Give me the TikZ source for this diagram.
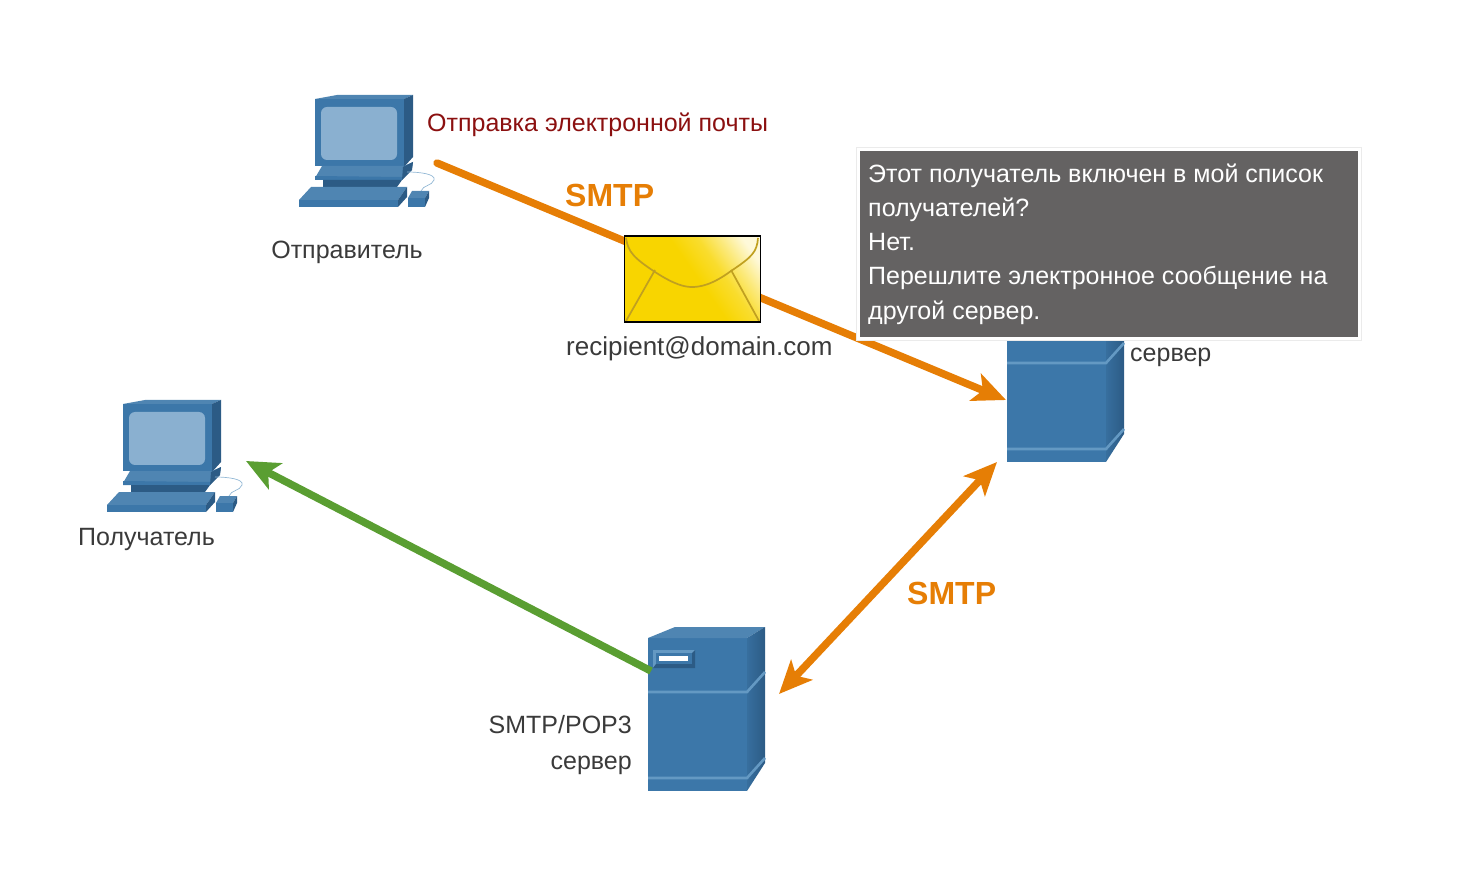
\documentclass[tikz,border=0pt]{standalone}
\usepackage{fontspec}
\setmainfont{Liberation Sans}
\usetikzlibrary{arrows.meta}
\definecolor{fr}{HTML}{3C77A9}
\definecolor{dk}{HTML}{2C5B85}
\definecolor{tp}{HTML}{4F85B2}
\definecolor{ln}{HTML}{6499C3}
\definecolor{scr}{HTML}{8AB0D0}
\definecolor{org}{HTML}{E67E05}
\definecolor{grn}{HTML}{5A9E32}
\definecolor{txt}{HTML}{3A3A3A}
\definecolor{red1}{HTML}{8B1010}
\definecolor{envy}{HTML}{F8D500}
\definecolor{envl}{HTML}{C0A020}
\definecolor{callg}{HTML}{646262}
\pgfdeclarehorizontalshading{envshade}{100bp}{color(0bp)=(envy);color(52bp)=(envy);color(62bp)=(envy!82!white);color(70bp)=(envy!50!white);color(78bp)=(envy!15!white);color(100bp)=(envy!10!white)}
\tikzset{
  x=1pt,y=-1pt,
  lbl/.style={inner sep=0pt,text=txt,font=\fontsize{25}{25}\selectfont},
  smtp/.style={inner sep=0pt,text=org,font=\fontsize{32}{32}\selectfont\bfseries},
  wire/.style={line width=7.5pt,org},
  pics/computer/.style={code={
    % monitor
    \fill[fr] (315,99) rectangle (404,166);
    \fill[tp] (315,99) -- (337,95) -- (413,95) -- (404,99) -- cycle;
    \fill[dk] (404,99) -- (413,95) -- (413,157) -- (404,167) -- cycle;
    \fill[scr,rounded corners=6pt] (321,107) rectangle (397,160);
    % base plate
    \fill[tp] (322,166) -- (404,166) -- (413,162) -- (412,168) -- (402,180) -- (315,178) -- cycle;
    \fill[fr] (315,176) -- (402,177) -- (402,180) -- (315,180) -- cycle;
    \fill[dk] (403,167) -- (413,162) -- (412,170) -- (402,180) -- cycle;
    % stem
    \fill[dk] (323,180) -- (402,180) -- (397,187) -- (323,187) -- cycle;
    % keyboard
    \fill[tp] (311,187) -- (407,187) -- (398,200) -- (299,200) -- cycle;
    \fill[fr] (299,200) -- (398,200) -- (398,207) -- (299,207) -- cycle;
    \fill[dk] (398,200) -- (407,187) -- (407,197) -- (398,207) -- cycle;
    % mouse
    \fill[tp] (412,191) -- (429,191) -- (425,198) -- (408,198) -- cycle;
    \fill[fr] (408,198) rectangle (425,207);
    \fill[dk] (425,198) -- (429,191) -- (429,198) -- (425,207) -- cycle;
    % cable
    \draw[line width=0.7pt,ln!70!white] (407,172) .. controls (420,172) and (436,174) .. (434,180) .. controls (432,186) and (423,185) .. (421,191);
  }},
  pics/server/.style={code={
    \fill[fr] (648,638) rectangle (747,791);
    \fill[tp] (648,638) -- (675,627) -- (765,627) -- (747,638) -- cycle;
    \shade[left color=fr!70!dk,right color=dk] (747,638) -- (765,627) -- (765,763) -- (747,791) -- cycle;
    \draw[ln,line width=2.6pt] (648,692) -- (747,692) -- (765,672);
    \draw[ln,line width=2.6pt] (648,778) -- (747,778) -- (765,758);
    % drive bay
    \fill[ln] (653,650) rectangle (695,668);
    \fill[dk] (653,668) -- (695,668) -- (695,650) -- (692,653) -- (692,664) -- (656,664) -- cycle;
    \fill[fr] (656,653) rectangle (692,664);
    \fill[white] (659,656) rectangle (688,661);
  }}
}
\begin{document}
\begin{tikzpicture}
\useasboundingbox (0,0) rectangle (1473,874);
% named connector ends
\coordinate (sendOut) at (437,163);
\coordinate (relayIn) at (1006,400);
\coordinate (relayLow) at (997,462);
\coordinate (popHigh) at (779,694);
\coordinate (popOut) at (651,671);
\coordinate (rcptIn) at (246,461);
% connectors below the icons
\draw[wire,line cap=round,-{Stealth[length=33pt,width=29pt,inset=8pt]}] (sendOut) -- (relayIn);
\draw[wire,{Stealth[length=33pt,width=29pt,inset=8pt]}-{Stealth[length=33pt,width=29pt,inset=8pt]}] (popHigh) -- (relayLow);
% icons
\pic at (0,0) {computer};
\pic at (-192,305) {computer};
\pic at (0,0) {server};
\pic at (359,-329) {server};
\draw[line width=7.5pt,grn,-{Stealth[length=33pt,width=29pt,inset=8pt]}] (popOut) -- (rcptIn);
% envelope
\shade[shading=envshade,shading angle=35] (625,236) rectangle (760,322);
\draw[envl,line width=1.7pt] (626,238) .. controls (628,252) and (634,258) .. (655,272) .. controls (675,285) and (685,287) .. (692,287) .. controls (700,287) and (712,285) .. (731,271) .. controls (752,257) and (757,252) .. (758,238);
\draw[envl,line width=1.7pt] (655,270) -- (626,321);
\draw[envl,line width=1.7pt] (731,270) -- (759,321);
\node[draw=black,line width=1.3pt,minimum width=136pt,minimum height=86pt,inner sep=0pt] (env) at (692.5,279) {};
% callout
\node[fill=white,draw=black!8,line width=1pt,minimum width=505pt,minimum height=193pt,inner sep=0pt] (box) at (1109,244) {};
\node[fill=callg,minimum width=498pt,minimum height=186pt,inner sep=0pt] (inner) at (1109,244) {};
\node[anchor=north west,inner sep=0pt,text=white,align=left,font=\fontsize{25}{34.2}\selectfont] (msg) at (868,163.5)
 {Этот получатель включен в мой список\\получателей?\\Нет.\\Перешлите электронное сообщение на\\другой сервер.};
% labels
\node[anchor=base west,inner sep=0pt,text=red1,font=\fontsize{25}{25}\selectfont] (t1) at (427,132) {Отправка электронной почты};
\node[smtp,anchor=base west] (s1) at (565,207) {SMTP};
\node[smtp,anchor=base west] (s2) at (907,604) {SMTP};
\node[lbl,anchor=base] (t2) at (347,259) {Отправитель};
\node[lbl,anchor=base west,font=\fontsize{26}{26}\selectfont] (t3) at (566,356) {recipient@domain.com};
\node[lbl,anchor=base west] (t4) at (1130,362) {сервер};
\node[lbl,anchor=base west] (t5) at (78,545) {Получатель};
\node[lbl,anchor=base east] (t6) at (632,733) {SMTP/POP3};
\node[lbl,anchor=base east] (t7) at (632,769) {сервер};
\end{tikzpicture}
\end{document}
